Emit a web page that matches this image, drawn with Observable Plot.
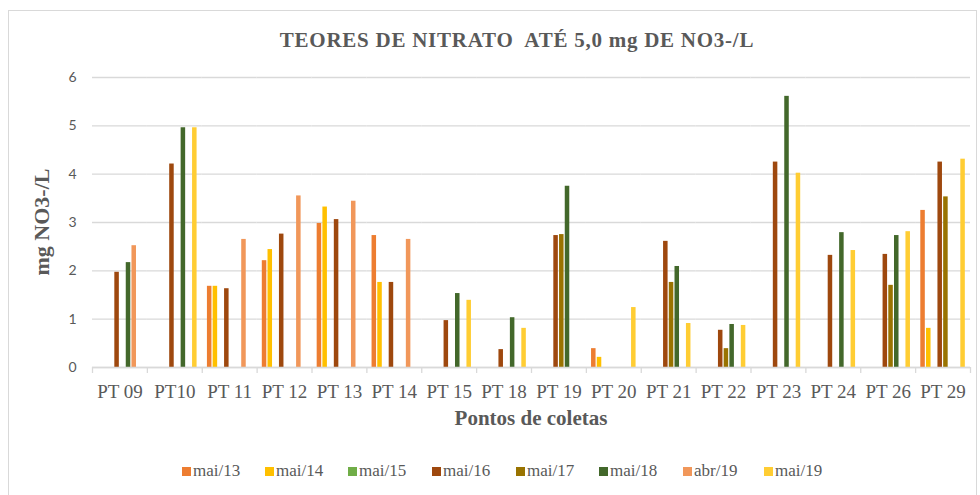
<!DOCTYPE html>
<html>
<head>
<meta charset="utf-8">
<script src="https://cdn.jsdelivr.net/npm/d3@7"></script>
<script src="https://cdn.jsdelivr.net/npm/@observablehq/plot@0.6"></script>
<style>
  html, body { margin: 0; padding: 0; background: #fff; }
  #wrap { position: relative; width: 980px; height: 495px; overflow: hidden; font-family: "Liberation Serif", serif; color: #595959; }
  #border { position: absolute; left: 8px; top: 10px; width: 969px; height: 520px; border: 1.5px solid #d9d9d9; box-sizing: border-box; }
  #chart { position: absolute; left: 0; top: 0; }
  #title { position: absolute; left: 0; width: 1034px; top: 28px; text-align: center; font-weight: bold; font-size: 21px; letter-spacing: 0.75px; line-height: 24px; white-space: pre; }
  #xtitle { position: absolute; left: 0; width: 1062px; top: 406px; text-align: center; font-weight: bold; font-size: 21px; line-height: 24px; }
  #ytitle { position: absolute; left: 42px; top: 222px; transform: translate(-50%, -50%) rotate(-90deg); font-weight: bold; font-size: 22px; line-height: 24px; white-space: nowrap; }
  #legend { position: absolute; top: 461px; left: 0; width: 980px; height: 22px; }
  .item { position: absolute; top: 0; font-size: 17px; line-height: 20px; white-space: nowrap; }
  .sw { display: inline-block; width: 9px; height: 9px; margin-right: 2px; vertical-align: 0px; }
</style>
</head>
<body>
<div id="wrap">
  <div id="border"></div>
  <div id="chart"></div>
  <div id="title"></div>
  <div id="xtitle"></div>
  <div id="ytitle"></div>
  <div id="legend"></div>
</div>
<script>
// ---- data ----
const titleText = "TEORES DE NITRATO  ATÉ 5,0 mg DE NO3-/L";
const xTitle = "Pontos de coletas";
const yTitle = "mg NO3-/L";
const categories = ["PT 09","PT10","PT 11","PT 12","PT 13","PT 14","PT 15","PT 18","PT 19","PT 20","PT 21","PT 22","PT 23","PT 24","PT 26","PT 29"];
const seriesNames = ["mai/13","mai/14","mai/15","mai/16","mai/17","mai/18","abr/19","mai/19"];
const seriesColors = ["#ED7D31","#FFC000","#70AD47","#9E480E","#997300","#43682B","#F1975A","#FFCD33"];
const yTicks = [0,1,2,3,4,5,6];

const mai13 = [null,null,1.68,2.21,2.98,2.73,null,null,null,0.39,null,null,null,null,null,3.25];
const mai14 = [null,null,1.68,2.44,3.32,1.76,null,null,null,0.21,null,null,null,null,null,0.81];
const mai15 = [null,null,null,null,null,null,null,null,null,null,null,null,null,null,null,null];
const mai16 = [1.97,4.21,1.63,2.76,3.06,1.76,0.97,0.37,2.73,null,2.61,0.77,4.25,2.32,2.34,4.25];
const mai17 = [null,null,null,null,null,null,null,null,2.75,null,1.76,0.39,null,null,1.70,3.53];
const mai18 = [2.17,4.96,null,null,null,null,1.53,1.03,3.75,null,2.09,0.89,5.61,2.79,2.73,null];
const abr19 = [2.52,null,2.65,3.55,3.44,2.65,null,null,null,null,null,null,null,null,null,null];
const mai19 = [null,4.96,null,null,null,null,1.39,0.81,null,1.24,0.91,0.87,4.02,2.42,2.81,4.31];
const seriesValues = [mai13, mai14, mai15, mai16, mai17, mai18, abr19, mai19];

// ---- build table ----
const rows = [];
categories.forEach((c, i) => {
  seriesNames.forEach((s, j) => {
    const v = seriesValues[j][i];
    if (v != null) rows.push({cat: c, series: s, value: v});
  });
});

const W = 980, H = 495, ML = 92, MR = 10, MT = 77, MB = 128;
const xPadOuter = 0.8;
const step = (W - ML - MR) / categories.length / (seriesNames.length + 2 * xPadOuter);
const edge = step * (xPadOuter + 0.5);
const grid = "#d9d9d9";

const chart = Plot.plot({
  width: W, height: H,
  marginLeft: ML, marginRight: MR, marginTop: MT, marginBottom: MB,
  style: {fontFamily: "Liberation Serif", color: "#595959", background: "transparent", overflow: "visible"},
  fx: {domain: categories, padding: 0, round: false, label: null, axis: null},
  x: {domain: seriesNames, paddingInner: 0, paddingOuter: xPadOuter, round: false, axis: null},
  y: {domain: [0, 6], label: null, axis: null},
  color: {domain: seriesNames, range: seriesColors},
  marks: [
    Plot.gridY(yTicks, {stroke: grid, strokeOpacity: 1, strokeWidth: 1.3}),
    Plot.axisY(yTicks, {tickSize: 0, tickPadding: 16, fontSize: 14, fontFamily: "Lato", label: null, fill: "#595959"}),
    Plot.axisFx({anchor: "bottom", tickSize: 0, tickPadding: 17, fontSize: 19, label: null, fill: "#595959"}),
    Plot.barY(rows, {fx: "cat", x: "series", y: "value", fill: "series", insetLeft: 0.6, insetRight: 0.6}),
    Plot.ruleY([0], {stroke: grid, strokeWidth: 1.3}),
    Plot.ruleX(categories, {fx: d => d, x: () => seriesNames[0], y1: 0, y2: 0, insetBottom: -6, dx: -edge, stroke: grid, strokeWidth: 1.3}),
    Plot.ruleX([categories[categories.length - 1]], {fx: d => d, x: () => seriesNames[seriesNames.length - 1], y1: 0, y2: 0, insetBottom: -6, dx: edge, stroke: grid, strokeWidth: 1.3})
  ]
});
document.getElementById("chart").appendChild(chart);

document.getElementById("title").textContent = titleText;
document.getElementById("xtitle").textContent = xTitle;
document.getElementById("ytitle").textContent = yTitle;

const legendLeft = [182, 265, 348, 432, 516, 599, 683, 764];
const legend = document.getElementById("legend");
seriesNames.forEach((s, j) => {
  const it = document.createElement("div");
  it.className = "item";
  it.style.left = legendLeft[j] + "px";
  const sw = document.createElement("span");
  sw.className = "sw";
  sw.style.background = seriesColors[j];
  it.appendChild(sw);
  it.appendChild(document.createTextNode(s));
  legend.appendChild(it);
});
</script>
</body>
</html>
